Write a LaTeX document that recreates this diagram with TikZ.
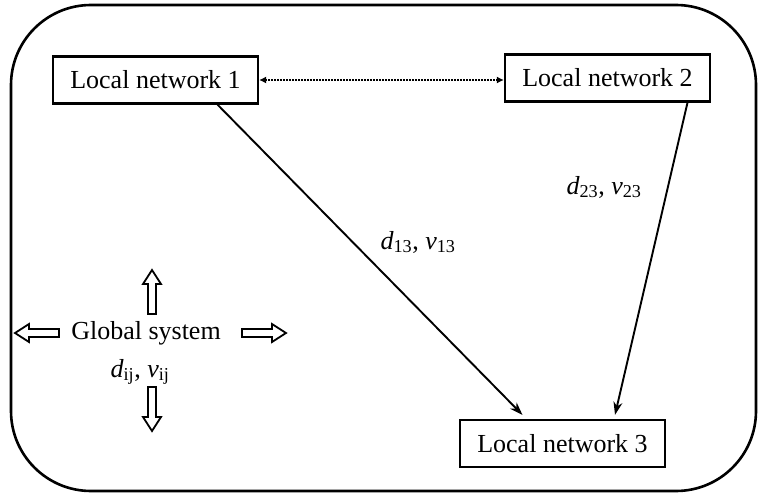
\documentclass[tikz,border=0pt]{standalone}
\usepackage{fontspec}
\setmainfont{Liberation Serif}
\usetikzlibrary{arrows.meta,calc}
\tikzset{
  netbox/.style={draw, line width=2.2pt, minimum width=205pt, minimum height=47pt, inner sep=0pt, font=\fontsize{26}{30}\selectfont},
  lbl/.style={inner sep=0pt, font=\fontsize{26}{30}\selectfont},
  link/.style={line width=1.9pt, -{Stealth[length=13pt,width=9pt]}},
  dotlink/.style={line width=2pt, dash pattern=on 1.6pt off 1.4pt, {Latex[length=7pt,width=7pt]}-{Latex[length=7pt,width=7pt]}},
  blockarrow/.pic={\draw[line width=1.8pt, line join=miter] (-44,4) -- (-14,4) -- (-14,9) -- (0,0) -- (-14,-9) -- (-14,-4) -- (-44,-4) -- cycle;}
}
\begin{document}
\begin{tikzpicture}[x=1pt,y=-1pt]
\useasboundingbox (0,0) rectangle (758,495);
\draw[line width=2.6pt, rounded corners=80pt] (11,5) rectangle (756,491);
\node[netbox] (ln1) at (155.5,80) {Local network 1};
\node[netbox] (ln2) at (607.5,78) {Local network 2};
\node[netbox] (ln3) at (562.5,443.5) {Local network 3};
\draw[dotlink] (ln1.east) -- (ln1.east -| ln2.west);
\draw[link] ($(ln1.south)+(62,0)$) -- ($(ln3.north)+(-40,-4)$);
\draw[link] ($(ln2.south)+(80,0)$) -- ($(ln3.north)+(52.5,-4)$);
\node[lbl] (l13) at (418,242) {\textit{d}\textsubscript{13}, \textit{v}\textsubscript{13}};
\node[lbl] (l23) at (604,187) {\textit{d}\textsubscript{23}, \textit{v}\textsubscript{23}};
\node[lbl] (gs) at (146,333) {Global system};
\node[lbl] (gdv) at (140,372) {\textit{d}\textsubscript{ij}, \textit{v}\textsubscript{ij}};
\pic at (152,270) [rotate=90] {blockarrow};
\pic at (152,431) [rotate=-90] {blockarrow};
\pic at (15,333) [rotate=180] {blockarrow};
\pic at (286,333) {blockarrow};
\end{tikzpicture}
\end{document}
